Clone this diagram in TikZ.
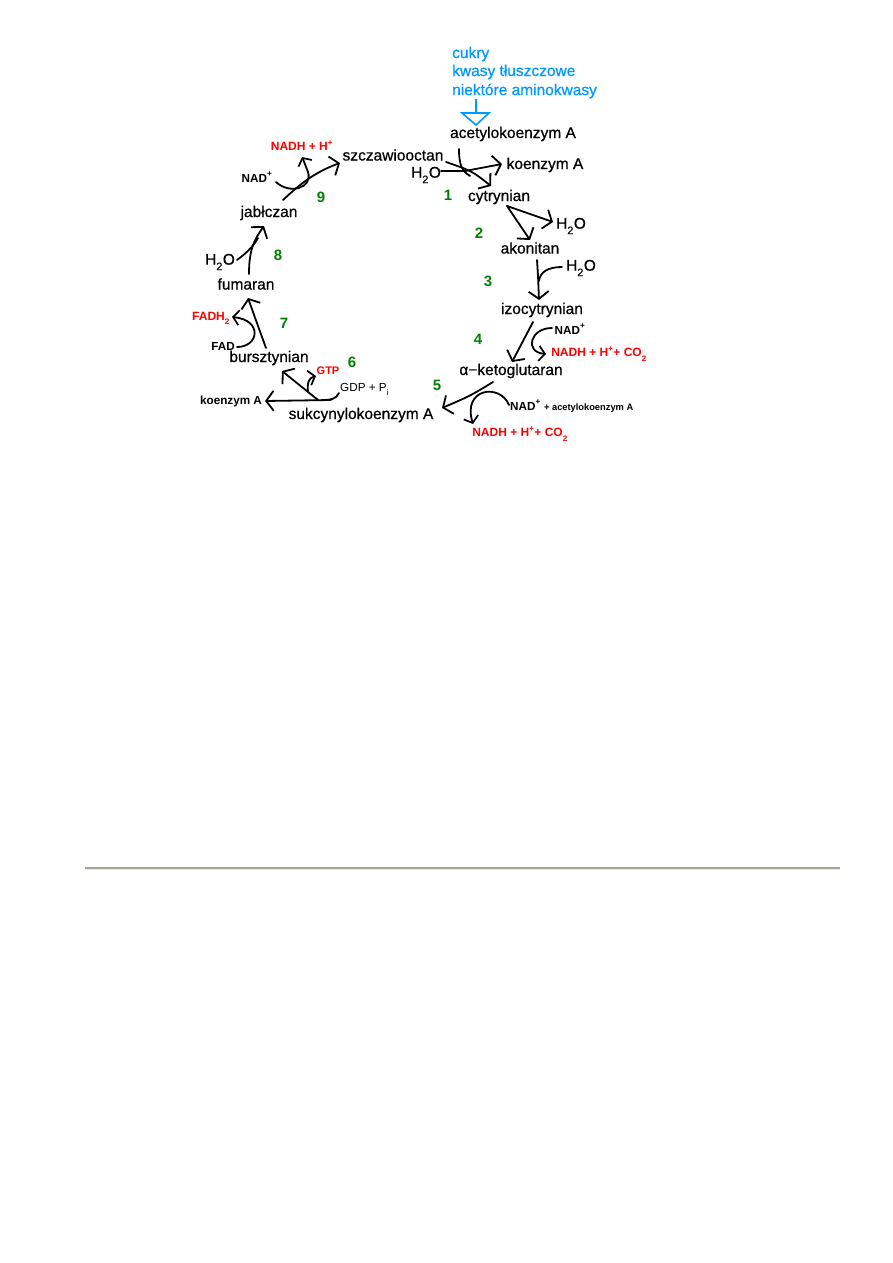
\documentclass[tikz,border=0pt]{standalone}
\usepackage{fontspec}
\setmainfont{Liberation Sans}
\newfontfamily\heavy{Liberation Sans}[FakeBold=0.6]
\usetikzlibrary{arrows.meta}
\definecolor{rxred}{RGB}{255,0,0}
\definecolor{rxgreen}{RGB}{0,128,0}
\definecolor{rxblue}{RGB}{0,153,255}
\definecolor{rulegray}{RGB}{168,165,150}
\definecolor{rulelight}{RGB}{236,234,222}
\newcommand{\msub}[1]{\raisebox{-0.35ex}{\textsubscript{#1}}}
\newcommand{\msup}[1]{\raisebox{0.15ex}{\textsuperscript{#1}}}
\tikzset{
  lbl/.style={inner sep=0pt, font=\heavy\fontsize{15.5}{18}\selectfont},
  sm/.style={inner sep=0pt, font=\fontsize{11.7}{14}\selectfont\bfseries},
  rd/.style={inner sep=0pt, text=rxred, font=\fontsize{12}{14}\selectfont\bfseries},
  num/.style={inner sep=0pt, text=rxgreen, font=\fontsize{15}{18}\selectfont\bfseries},
  bl/.style={inner sep=0pt, anchor=west, text=rxblue, font=\heavy\fontsize{15.5}{18}\selectfont},
  ln/.style={line width=1.8pt, line cap=round, line join=round},
  arr/.style={ln, -{Straight Barb[length=7.5pt,width=20pt,line width=1.8pt]}},
  sarr/.style={ln, -{Straight Barb[length=6pt,width=15pt,line width=1.7pt]}}
}
\begin{document}
\begin{tikzpicture}[x=1pt,y=-1pt]
\useasboundingbox (0,0) rectangle (893,1263);
\fill[white] (0,0) rectangle (893,1263);

% blue sources
\node[bl] (cuk) at (452,54) {cukry};
\node[bl] (kwa) at (452,72) {kwasy tłuszczowe};
\node[bl] (nie) at (452,91) {niektóre aminokwasy};
\coordinate (bt) at (476,99);
\coordinate (bm) at (476,113);
\coordinate (bl1) at (462,113);
\coordinate (br1) at (489,113);
\coordinate (ba) at (476,125);
\draw[rxblue, line width=1.6pt] (bt) -- (bm);
\draw[rxblue, line width=1.6pt, line join=miter] (bl1) -- (br1) -- (ba) -- cycle;

% main labels
\node[lbl] (acetyl) at (513,134) {acetylokoenzym A};
\node[lbl] (szcz) at (393,155) {szczawiooctan};
\node[lbl] (koA1) at (545,165) {koenzym A};
\node[lbl] (cytr) at (499,197) {cytrynian};
\node[lbl] (akon) at (530,248) {akonitan};
\node[lbl] (izoc) at (542,310) {izocytrynian};
\node[lbl] (keto) at (511,371) {α−ketoglutaran};
\node[lbl] (sukc) at (361,415) {sukcynylokoenzym A};
\node[lbl] (burs) at (269,358) {bursztynian};
\node[lbl] (fuma) at (246,284) {fumaran};
\node[lbl] (jabl) at (269,213) {jabłczan};

% water
\node[lbl] (h1) at (426,175) {H\msub{2}O};
\node[lbl] (h2) at (571,226) {H\msub{2}O};
\node[lbl] (h3) at (581,268) {H\msub{2}O};
\node[lbl] (h8) at (220,262) {H\msub{2}O};

% step numbers
\node[num] (n1) at (448,195) {1};
\node[num] (n2) at (479,233) {2};
\node[num] (n3) at (488,281) {3};
\node[num] (n4) at (478,339) {4};
\node[num] (n5) at (437,385) {5};
\node[num] (n6) at (352,362) {6};
\node[num] (n7) at (284,323) {7};
\node[num] (n8) at (278,255) {8};
\node[num] (n9) at (321,197) {9};

% cofactors
\node[sm] (nad4) at (570,329) {NAD\msup{+}};
\node[rd] (nadh4) at (599,354) {NADH + H\msup{+}+ CO\msub{2}};
\node[sm, anchor=west] (nad5) at (510,406) {NAD\msup{+} {\fontsize{9.3}{11}\selectfont + acetylokoenzym A}};
\node[rd] (nadh5) at (520,434) {NADH + H\msup{+}+ CO\msub{2}};
\node[sm] (koA6) at (231,401) {koenzym A};
\node[sm, anchor=west, font=\fontsize{11.7}{14}\selectfont] (gdp) at (340,389) {GDP + P\msub{i}};
\node[rd, font=\fontsize{11}{13}\selectfont\bfseries] (gtp) at (328,371) {GTP};
\node[sm] (fad) at (223,346) {FAD};
\node[rd] (fadh) at (211,318) {FADH\msub{2}};
\node[sm] (nad9) at (257,177) {NAD\msup{+}};
\node[rd] (nadh9) at (302,146) {NADH + H\msup{+}};

% ---- step 1
\coordinate (s1a) at (446,162);
\coordinate (s1b) at (491,186);
\coordinate (s1c) at (459,149);
\coordinate (s1j) at (470,176);
\coordinate (s1h) at (441,171);
\coordinate (s1k) at (465,171);
\coordinate (s1e) at (502,164);
\draw[arr] (s1a) .. controls (472,171) .. (s1b);
\draw[ln] (s1c) .. controls (459,165) and (462,171) .. (s1j);
\draw[arr] (s1h) -- (s1k) -- (s1e);

% ---- step 2
\coordinate (s2a) at (507,206);
\coordinate (s2b) at (553,222);
\coordinate (s2c) at (530,240);
\draw[arr] (s2a) -- (s2b);
\draw[arr] (s2a) -- (s2c);

% ---- step 3
\coordinate (s3a) at (537,260);
\coordinate (s3b) at (539,300);
\coordinate (s3h) at (562,267);
\coordinate (s3j) at (539,281);
\draw[arr] (s3a) .. controls (538,275) .. (s3b);
\draw[ln] (s3h) .. controls (548,267) and (540,272) .. (s3j);

% ---- step 4
\coordinate (s4a) at (533,322);
\coordinate (s4b) at (512,362);
\coordinate (s4n) at (552,328);
\coordinate (s4r) at (546,354);
\draw[arr] (s4a) -- (s4b);
\draw[sarr] (s4n) .. controls (530,328) and (524,352) .. (s4r);

% ---- step 5
\coordinate (s5a) at (493,382);
\coordinate (s5b) at (442,408);
\coordinate (s5n) at (509,405);
\coordinate (s5r) at (473,424);
\draw[arr] (s5a) .. controls (470,396) .. (s5b);
\draw[sarr] (s5n) .. controls (500,383) and (462,388) .. (s5r);

% ---- step 6
\coordinate (s6a) at (318,400);
\coordinate (s6b) at (282,371);
\coordinate (s6c) at (331,400);
\coordinate (s6d) at (265,401);
\coordinate (s6g) at (339,393);
\coordinate (s6j) at (323,400);
\coordinate (s6s) at (308,392);
\coordinate (s6t) at (316,376);
\draw[arr] (s6a) -- (s6b);
\draw[arr] (s6c) -- (s6d);
\draw[ln] (s6g) .. controls (336,399) and (331,400) .. (s6j);
\draw[sarr] (s6s) .. controls (307,382) and (309,378) .. (s6t);

% ---- step 7
\coordinate (s7a) at (266,348);
\coordinate (s7b) at (248,298);
\coordinate (s7f) at (237,347);
\coordinate (s7r) at (232,317);
\draw[arr] (s7a) .. controls (258,326) .. (s7b);
\draw[sarr] (s7f) .. controls (259,347) and (263,320) .. (s7r);

% ---- step 8
\coordinate (s8a) at (249,274);
\coordinate (s8b) at (264,226);
\coordinate (s8h) at (237,260);
\coordinate (s8j) at (258,238);
\draw[arr] (s8a) .. controls (249,250) and (254,240) .. (s8b);
\draw[ln] (s8h) .. controls (248,252) and (254,245) .. (s8j);

% ---- step 9
\coordinate (s9a) at (283,200);
\coordinate (s9b) at (340,163);
\coordinate (s9n) at (276,182);
\coordinate (s9r) at (302,157);
\draw[arr] (s9a) .. controls (300,184) and (315,172) .. (s9b);
\draw[sarr] (s9n) .. controls (290,195) and (313,188) .. (308,172) .. controls (306,165) .. (s9r);

% rule
\coordinate (ra) at (85,868);
\coordinate (rb) at (840,868);
\coordinate (rc) at (85,869.8);
\coordinate (rd) at (840,869.8);
\draw[rulegray, line width=2pt] (ra) -- (rb);
\draw[rulelight, line width=1pt] (rc) -- (rd);
\end{tikzpicture}
\end{document}
